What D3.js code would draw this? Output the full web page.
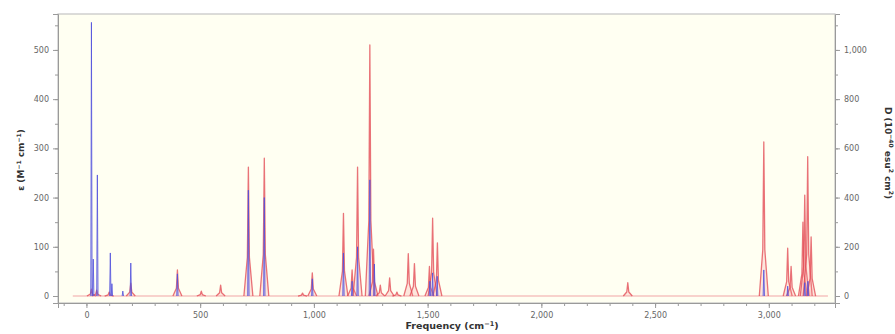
<!DOCTYPE html>
<html>
<head>
<meta charset="utf-8">
<script src="https://cdn.jsdelivr.net/npm/d3@7"></script>
<style>
  body { margin: 0; background: #fff; }
  svg text { font-family: "DejaVu Sans", Verdana, sans-serif; }
</style>
</head>
<body>
<div id="chart"></div>
<script>
// epsilon spectrum (red), peak centres in cm-1 and heights in M-1 cm-1
const epsFreq = [22, 45, 100, 195, 400, 505, 590, 712, 782, 950, 993, 1130, 1168, 1192, 1246, 1262, 1292, 1333, 1365, 1415, 1442, 1508, 1522, 1543, 2380, 2978, 3083, 3098, 3150, 3158, 3171, 3186];
const epsVal  = [14, 12, 8, 26, 53, 10, 22, 262, 280, 6, 47, 168, 53, 262, 510, 95, 22, 37, 8, 86, 66, 60, 158, 108, 27, 313, 97, 60, 150, 205, 283, 120];

// dipole strength (blue), heights in 10^-40 esu2 cm2
const dFreq = [22, 30, 48, 105, 112, 160, 195, 400, 712, 782, 993, 1130, 1168, 1192, 1246, 1266, 1510, 1522, 1542, 2978, 3083, 3158, 3172];
const dVal  = [1112, 150, 492, 175, 50, 20, 134, 90, 430, 400, 70, 175, 60, 200, 472, 130, 60, 94, 80, 106, 40, 54, 60];

const xTicks = [0, 500, 1000, 1500, 2000, 2500, 3000];
const yLeftTicks = [0, 100, 200, 300, 400, 500];
const yRightTicks = [0, 200, 400, 600, 800, 1000];

const W = 895, H = 334;
const m = { left: 58, right: 60, top: 14, bottom: 31 };
const iw = W - m.left - m.right, ih = H - m.top - m.bottom;

const svg = d3.select('#chart').append('svg')
  .attr('width', W).attr('height', H);

const x = d3.scaleLinear().domain([-125, 3291]).range([m.left, m.left + iw]);
const yL = d3.scaleLinear().domain([-14.2, 573]).range([m.top + ih, m.top]);
const yR = d3.scaleLinear().domain([-28.4, 1146]).range([m.top + ih, m.top]);

// plot background + frame
svg.append('rect')
  .attr('x', m.left).attr('y', m.top).attr('width', iw).attr('height', ih)
  .attr('fill', '#fffff2').attr('stroke', '#c4c4c4').attr('stroke-width', 1.2);

const clip = svg.append('defs').append('clipPath').attr('id', 'plotclip');
clip.append('rect').attr('x', m.left).attr('y', m.top).attr('width', iw).attr('height', ih);

const g = svg.append('g').attr('clip-path', 'url(#plotclip)');

const line = d3.line().x(d => x(d[0]));

// red baseline
g.append('path')
  .datum([[-60, 0], [3260, 0]])
  .attr('d', line.y(d => yL(d[1])))
  .attr('stroke', '#f2a6a6').attr('stroke-width', 1.2).attr('fill', 'none');

// red peaks
const rw = 9;
epsFreq.forEach((f, i) => {
  const pts = [[f - rw * 2.2, 0], [f - rw * 0.5, epsVal[i] * 0.3], [f, epsVal[i]], [f + rw * 0.5, epsVal[i] * 0.3], [f + rw * 2.2, 0]];
  g.append('path')
    .datum(pts)
    .attr('d', d3.line().x(d => x(d[0])).y(d => yL(d[1])).curve(d3.curveLinear)(pts))
    .attr('fill', 'rgba(245,140,140,0.22)')
    .attr('stroke', 'rgba(226,70,80,0.75)')
    .attr('stroke-width', 1.3)
    .attr('stroke-linejoin', 'round');
});

// blue peaks
const bw = 3;
dFreq.forEach((f, i) => {
  const pts = [[f - bw, 0], [f, dVal[i]], [f + bw, 0]];
  g.append('path')
    .attr('d', d3.line().x(d => x(d[0])).y(d => yR(d[1]))(pts))
    .attr('fill', 'rgba(110,110,230,0.25)')
    .attr('stroke', 'rgba(80,80,220,0.8)')
    .attr('stroke-width', 1)
    .attr('stroke-linejoin', 'round');
});

// axes
const tickCol = '#9a9a9a', labCol = '#666';
const fmt = d3.format(',');

const xAxis = svg.append('g').attr('transform', `translate(0,${m.top + ih})`);
xAxis.call(d3.axisBottom(x).tickValues(d3.range(-100, 3300, 100)).tickSize(3).tickFormat(''));
xAxis.call(g2 => g2.select('.domain').remove());
const xMaj = svg.append('g').attr('transform', `translate(0,${m.top + ih})`)
  .call(d3.axisBottom(x).tickValues(xTicks).tickSize(5).tickPadding(4).tickFormat(fmt));
xMaj.select('.domain').attr('stroke', tickCol);

const yAxL = svg.append('g').attr('transform', `translate(${m.left},0)`)
  .call(d3.axisLeft(yL).tickValues(d3.range(0, 551, 50)).tickSize(3).tickFormat(''));
yAxL.select('.domain').remove();
const yMajL = svg.append('g').attr('transform', `translate(${m.left},0)`)
  .call(d3.axisLeft(yL).tickValues(yLeftTicks).tickSize(5).tickPadding(4).tickFormat(fmt));
yMajL.select('.domain').attr('stroke', tickCol);

const yAxR = svg.append('g').attr('transform', `translate(${m.left + iw},0)`)
  .call(d3.axisRight(yR).tickValues(d3.range(0, 1101, 100)).tickSize(3).tickFormat(''));
yAxR.select('.domain').remove();
const yMajR = svg.append('g').attr('transform', `translate(${m.left + iw},0)`)
  .call(d3.axisRight(yR).tickValues(yRightTicks).tickSize(5).tickPadding(4).tickFormat(fmt));
yMajR.select('.domain').attr('stroke', tickCol);

svg.selectAll('.tick line').attr('stroke', tickCol);
svg.selectAll('.tick text').attr('fill', labCol).style('font-size', '8px');

// axis titles
const xt = svg.append('text')
  .attr('x', 452).attr('y', 329).attr('text-anchor', 'middle')
  .style('font-size', '9.5px').style('font-weight', 'bold').attr('fill', '#333');
xt.append('tspan').text('Frequency (cm');
xt.append('tspan').text('\u22121').attr('dy', -3.5).style('font-size', '6.5px');
xt.append('tspan').text(')').attr('dy', 3.5);

const ylt = svg.append('text')
  .attr('transform', 'translate(24,160) rotate(-90)').attr('text-anchor', 'middle')
  .style('font-size', '9px').style('font-weight', 'bold').attr('fill', '#333');
ylt.append('tspan').text('\u03b5 (M');
ylt.append('tspan').text('\u22121').attr('dy', -3.5).style('font-size', '6px');
ylt.append('tspan').text(' cm').attr('dy', 3.5);
ylt.append('tspan').text('\u22121').attr('dy', -3.5).style('font-size', '6px');
ylt.append('tspan').text(')').attr('dy', 3.5);

const yrt = svg.append('text')
  .attr('transform', 'translate(885,153) rotate(90)').attr('text-anchor', 'middle')
  .style('font-size', '9px').style('font-weight', 'bold').attr('fill', '#333');
yrt.append('tspan').text('D (10');
yrt.append('tspan').text('\u221240').attr('dy', -3.5).style('font-size', '6px');
yrt.append('tspan').text(' esu').attr('dy', 3.5);
yrt.append('tspan').text('2').attr('dy', -3.5).style('font-size', '6px');
yrt.append('tspan').text(' cm').attr('dy', 3.5);
yrt.append('tspan').text('2').attr('dy', -3.5).style('font-size', '6px');
yrt.append('tspan').text(')').attr('dy', 3.5);
</script>
</body>
</html>
